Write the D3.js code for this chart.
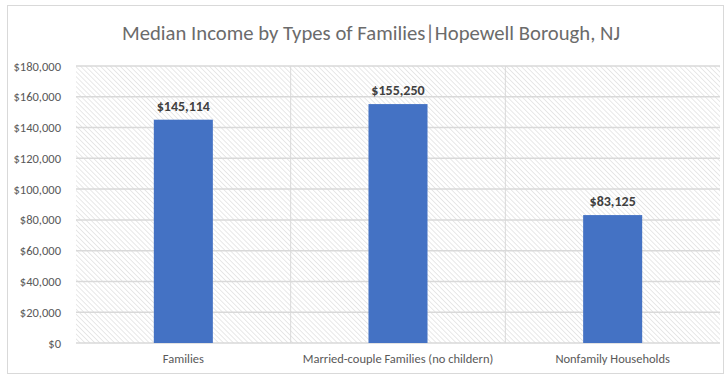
<!DOCTYPE html>
<html>
<head>
<meta charset="utf-8">
<script src="https://cdn.jsdelivr.net/npm/d3@7"></script>
<style>
  body { margin: 0; background: #fff; }
  text { font-family: Carlito, "Liberation Sans Narrow", "Open Sans", sans-serif; }
</style>
</head>
<body>
<div id="chart"></div>
<script>
// Chart data
const categories = ["Families", "Married-couple Families (no childern)", "Nonfamily Households"];
const incomes = [145114, 155250, 83125];
const yTicks = [0, 20000, 40000, 60000, 80000, 100000, 120000, 140000, 160000, 180000];
const titleText = "Median Income by Types of Families|Hopewell Borough, NJ";

const W = 726, H = 376;
const margin = { top: 66, right: 6, bottom: 33, left: 76 };
const width = W - margin.left - margin.right;
const height = H - margin.top - margin.bottom;

const svg = d3.select("#chart")
    .append("svg")
    .attr("width", W)
    .attr("height", H);

// Hatch pattern for plot background (lines run top-left to bottom-right)
const defs = svg.append("defs");
const pat = defs.append("pattern")
    .attr("id", "hatch")
    .attr("patternUnits", "userSpaceOnUse")
    .attr("width", 3.5)
    .attr("height", 3.5)
    .attr("patternTransform", "rotate(45)");
pat.append("rect").attr("width", 3.5).attr("height", 3.5).attr("fill", "#fff");
pat.append("line")
    .attr("x1", 0).attr("y1", 0).attr("x2", 3.5).attr("y2", 0)
    .attr("stroke", "#e3e3e3").attr("stroke-width", 1.6);

// Outer chart border
svg.append("rect")
    .attr("x", 7.5).attr("y", 5.5)
    .attr("width", W - 10).attr("height", H - 8)
    .attr("fill", "none")
    .attr("stroke", "#d9d9d9");

// Title
svg.append("text")
    .attr("x", 371)
    .attr("y", 40)
    .attr("text-anchor", "middle")
    .attr("font-size", 21)
    .attr("fill", "#6b6b6b")
    .attr("textLength", 498)
    .attr("lengthAdjust", "spacingAndGlyphs")
    .text(titleText);

const g = svg.append("g")
    .attr("transform", `translate(${margin.left},${margin.top})`);

// Scales
const x = d3.scaleBand()
    .domain(categories)
    .range([0, width])
    .padding(0);

const y = d3.scaleLinear()
    .domain([0, 180000])
    .range([height, 0]);

// Plot background
g.append("rect")
    .attr("width", width)
    .attr("height", height)
    .attr("fill", "url(#hatch)");

// Horizontal gridlines
g.append("g")
    .selectAll("line")
    .data(yTicks)
    .enter()
    .append("line")
    .attr("x1", 0)
    .attr("x2", width)
    .attr("y1", d => y(d))
    .attr("y2", d => y(d))
    .attr("stroke", "#d9d9d9")
    .attr("stroke-width", 1.5);

// Vertical category separators
g.append("g")
    .selectAll("line")
    .data(categories.slice(1))
    .enter()
    .append("line")
    .attr("x1", d => x(d))
    .attr("x2", d => x(d))
    .attr("y1", 0)
    .attr("y2", height)
    .attr("stroke", "#d9d9d9")
    .attr("stroke-width", 1);

// Y axis
const yAxis = d3.axisLeft(y)
    .tickValues(yTicks)
    .tickSize(0)
    .tickPadding(15)
    .tickFormat(d => "$" + d3.format(",")(d));

g.append("g")
    .call(yAxis)
    .call(s => s.select(".domain").remove())
    .selectAll("text")
    .attr("font-size", 12.5)
    .attr("fill", "#595959")
    .style("font-family", "Carlito, 'Liberation Sans Narrow', 'Open Sans', sans-serif");

// X axis
const xAxis = d3.axisBottom(x)
    .tickSize(0)
    .tickPadding(11);

g.append("g")
    .attr("transform", `translate(0,${height})`)
    .call(xAxis)
    .call(s => s.select(".domain").remove())
    .selectAll("text")
    .attr("font-size", 12.5)
    .attr("fill", "#595959")
    .style("font-family", "Carlito, 'Liberation Sans Narrow', 'Open Sans', sans-serif");

// Bars
const barW = x.bandwidth() * 0.275;
const data = categories.map((c, i) => ({ cat: c, val: incomes[i] }));

g.selectAll(".bar")
    .data(data)
    .enter()
    .append("rect")
    .attr("class", "bar")
    .attr("x", d => x(d.cat) + (x.bandwidth() - barW) / 2)
    .attr("y", d => y(d.val))
    .attr("width", barW)
    .attr("height", d => height - y(d.val))
    .attr("fill", "#4472c4");

// Data labels
g.selectAll(".label")
    .data(data)
    .enter()
    .append("text")
    .attr("class", "label")
    .attr("x", d => x(d.cat) + x.bandwidth() / 2)
    .attr("y", d => y(d.val) - 9)
    .attr("text-anchor", "middle")
    .attr("font-size", 14)
    .attr("font-weight", "bold")
    .attr("fill", "#404040")
    .text(d => "$" + d3.format(",")(d.val));
</script>
</body>
</html>
